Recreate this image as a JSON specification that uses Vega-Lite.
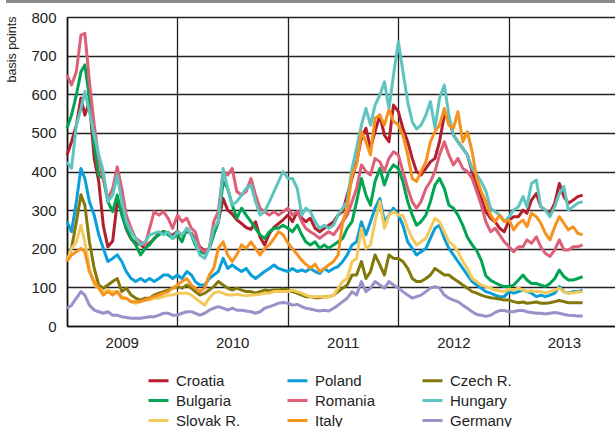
{
"$schema": "https://vega.github.io/schema/vega-lite/v6.json",
"width": 548, "height": 309,
"autosize": {"type": "none"},
"padding": {"left": 67, "top": 17, "right": 0, "bottom": 101},
"background": "white",
"config": {"font": "Liberation Sans, Arial, sans-serif", "view": {"stroke": null},
"axisY": {"ticks": false, "grid": true, "gridColor": "#222", "gridWidth": 1.3, "labelOverlap": false, "domainColor": "#111", "domainWidth": 1.6, "labelFontSize": 15, "labelColor": "#222", "labelPadding": 11},
"axisX": {"ticks": false, "grid": true, "gridColor": "#222", "gridWidth": 1.3, "labelOverlap": false, "domainColor": "#111", "domainWidth": 1.6, "labelFontSize": 15, "labelColor": "#222", "labelPadding": 9, "labelFlush": false}},
"data": {"values": [
{"d":"2009-01-01","Croatia":443,"Bulgaria":512,"Romania":650,"Hungary":425,"Poland":270,"CzechR":167,"SlovakR":167,"Italy":167,"Germany":46},
{"d":"2009-01-16","Croatia":477,"Bulgaria":546,"Romania":624,"Hungary":408,"Poland":244,"CzechR":201,"SlovakR":201,"Italy":184,"Germany":54},
{"d":"2009-02-01","Croatia":520,"Bulgaria":598,"Romania":658,"Hungary":520,"Poland":322,"CzechR":270,"SlovakR":218,"Italy":192,"Germany":72},
{"d":"2009-02-16","Croatia":590,"Bulgaria":658,"Romania":753,"Hungary":563,"Poland":408,"CzechR":340,"SlovakR":261,"Italy":201,"Germany":89},
{"d":"2009-03-01","Croatia":546,"Bulgaria":676,"Romania":758,"Hungary":607,"Poland":382,"CzechR":313,"SlovakR":218,"Italy":192,"Germany":80},
{"d":"2009-03-16","Croatia":581,"Bulgaria":590,"Romania":633,"Hungary":555,"Poland":322,"CzechR":218,"SlovakR":149,"Italy":141,"Germany":54},
{"d":"2009-04-01","Croatia":434,"Bulgaria":469,"Romania":520,"Hungary":494,"Poland":287,"CzechR":149,"SlovakR":106,"Italy":115,"Germany":41},
{"d":"2009-04-16","Croatia":374,"Bulgaria":391,"Romania":434,"Hungary":443,"Poland":236,"CzechR":106,"SlovakR":98,"Italy":98,"Germany":37},
{"d":"2009-05-01","Croatia":260,"Bulgaria":382,"Romania":382,"Hungary":400,"Poland":201,"CzechR":98,"SlovakR":89,"Italy":80,"Germany":33},
{"d":"2009-05-16","Croatia":205,"Bulgaria":322,"Romania":330,"Hungary":322,"Poland":167,"CzechR":106,"SlovakR":93,"Italy":89,"Germany":37},
{"d":"2009-06-01","Croatia":220,"Bulgaria":296,"Romania":356,"Hungary":339,"Poland":175,"CzechR":115,"SlovakR":89,"Italy":80,"Germany":28},
{"d":"2009-06-16","Croatia":320,"Bulgaria":339,"Romania":412,"Hungary":391,"Poland":184,"CzechR":123,"SlovakR":89,"Italy":89,"Germany":28},
{"d":"2009-07-01","Croatia":300,"Bulgaria":287,"Romania":356,"Hungary":322,"Poland":167,"CzechR":89,"SlovakR":76,"Italy":72,"Germany":24},
{"d":"2009-07-16","Croatia":250,"Bulgaria":253,"Romania":287,"Hungary":270,"Poland":141,"CzechR":98,"SlovakR":72,"Italy":72,"Germany":22},
{"d":"2009-08-01","Croatia":225,"Bulgaria":227,"Romania":253,"Hungary":244,"Poland":123,"CzechR":80,"SlovakR":63,"Italy":63,"Germany":20},
{"d":"2009-08-16","Croatia":215,"Bulgaria":210,"Romania":227,"Hungary":227,"Poland":115,"CzechR":72,"SlovakR":59,"Italy":63,"Germany":20},
{"d":"2009-09-01","Croatia":210,"Bulgaria":184,"Romania":218,"Hungary":210,"Poland":123,"CzechR":67,"SlovakR":63,"Italy":63,"Germany":20},
{"d":"2009-09-16","Croatia":201,"Bulgaria":201,"Romania":210,"Hungary":218,"Poland":115,"CzechR":72,"SlovakR":67,"Italy":67,"Germany":22},
{"d":"2009-10-01","Croatia":215,"Bulgaria":210,"Romania":253,"Hungary":236,"Poland":123,"CzechR":72,"SlovakR":67,"Italy":72,"Germany":24},
{"d":"2009-10-16","Croatia":225,"Bulgaria":227,"Romania":296,"Hungary":240,"Poland":115,"CzechR":80,"SlovakR":72,"Italy":76,"Germany":24},
{"d":"2009-11-01","Croatia":240,"Bulgaria":236,"Romania":287,"Hungary":244,"Poland":123,"CzechR":85,"SlovakR":72,"Italy":80,"Germany":28},
{"d":"2009-11-16","Croatia":245,"Bulgaria":244,"Romania":296,"Hungary":236,"Poland":132,"CzechR":89,"SlovakR":76,"Italy":85,"Germany":33},
{"d":"2009-12-01","Croatia":240,"Bulgaria":236,"Romania":279,"Hungary":244,"Poland":132,"CzechR":93,"SlovakR":80,"Italy":89,"Germany":33},
{"d":"2009-12-16","Croatia":235,"Bulgaria":227,"Romania":253,"Hungary":227,"Poland":123,"CzechR":98,"SlovakR":80,"Italy":98,"Germany":28},
{"d":"2010-01-01","Croatia":245,"Bulgaria":236,"Romania":287,"Hungary":244,"Poland":132,"CzechR":102,"SlovakR":85,"Italy":106,"Germany":28},
{"d":"2010-01-16","Croatia":235,"Bulgaria":218,"Romania":270,"Hungary":236,"Poland":123,"CzechR":98,"SlovakR":85,"Italy":115,"Germany":33},
{"d":"2010-02-01","Croatia":245,"Bulgaria":253,"Romania":279,"Hungary":253,"Poland":141,"CzechR":106,"SlovakR":85,"Italy":123,"Germany":37},
{"d":"2010-02-16","Croatia":240,"Bulgaria":236,"Romania":253,"Hungary":236,"Poland":132,"CzechR":98,"SlovakR":80,"Italy":106,"Germany":37},
{"d":"2010-03-01","Croatia":225,"Bulgaria":210,"Romania":244,"Hungary":218,"Poland":115,"CzechR":89,"SlovakR":72,"Italy":98,"Germany":33},
{"d":"2010-03-16","Croatia":205,"Bulgaria":192,"Romania":201,"Hungary":184,"Poland":106,"CzechR":80,"SlovakR":63,"Italy":89,"Germany":28},
{"d":"2010-04-01","Croatia":195,"Bulgaria":188,"Romania":192,"Hungary":175,"Poland":106,"CzechR":85,"SlovakR":54,"Italy":98,"Germany":33},
{"d":"2010-04-16","Croatia":200,"Bulgaria":201,"Romania":201,"Hungary":201,"Poland":123,"CzechR":93,"SlovakR":72,"Italy":132,"Germany":41},
{"d":"2010-05-01","Croatia":240,"Bulgaria":236,"Romania":270,"Hungary":253,"Poland":132,"CzechR":102,"SlovakR":85,"Italy":149,"Germany":46},
{"d":"2010-05-16","Croatia":270,"Bulgaria":270,"Romania":296,"Hungary":270,"Poland":141,"CzechR":115,"SlovakR":89,"Italy":201,"Germany":50},
{"d":"2010-06-01","Croatia":330,"Bulgaria":374,"Romania":400,"Hungary":408,"Poland":175,"CzechR":106,"SlovakR":85,"Italy":218,"Germany":46},
{"d":"2010-06-16","Croatia":300,"Bulgaria":356,"Romania":391,"Hungary":356,"Poland":149,"CzechR":98,"SlovakR":80,"Italy":184,"Germany":41},
{"d":"2010-07-01","Croatia":290,"Bulgaria":313,"Romania":408,"Hungary":313,"Poland":158,"CzechR":93,"SlovakR":80,"Italy":167,"Germany":46},
{"d":"2010-07-16","Croatia":275,"Bulgaria":279,"Romania":348,"Hungary":322,"Poland":149,"CzechR":98,"SlovakR":82,"Italy":184,"Germany":41},
{"d":"2010-08-01","Croatia":265,"Bulgaria":305,"Romania":339,"Hungary":339,"Poland":141,"CzechR":93,"SlovakR":80,"Italy":210,"Germany":41},
{"d":"2010-08-16","Croatia":255,"Bulgaria":287,"Romania":348,"Hungary":356,"Poland":149,"CzechR":89,"SlovakR":78,"Italy":201,"Germany":39},
{"d":"2010-09-01","Croatia":250,"Bulgaria":270,"Romania":382,"Hungary":365,"Poland":132,"CzechR":89,"SlovakR":80,"Italy":218,"Germany":37},
{"d":"2010-09-16","Croatia":270,"Bulgaria":253,"Romania":339,"Hungary":322,"Poland":123,"CzechR":85,"SlovakR":80,"Italy":201,"Germany":33},
{"d":"2010-10-01","Croatia":230,"Bulgaria":236,"Romania":305,"Hungary":287,"Poland":132,"CzechR":89,"SlovakR":82,"Italy":184,"Germany":37},
{"d":"2010-10-16","Croatia":210,"Bulgaria":227,"Romania":296,"Hungary":296,"Poland":141,"CzechR":93,"SlovakR":85,"Italy":201,"Germany":46},
{"d":"2010-11-01","Croatia":240,"Bulgaria":244,"Romania":287,"Hungary":322,"Poland":149,"CzechR":91,"SlovakR":85,"Italy":210,"Germany":50},
{"d":"2010-11-16","Croatia":255,"Bulgaria":253,"Romania":296,"Hungary":348,"Poland":158,"CzechR":93,"SlovakR":89,"Italy":227,"Germany":54},
{"d":"2010-12-01","Croatia":265,"Bulgaria":253,"Romania":287,"Hungary":374,"Poland":149,"CzechR":93,"SlovakR":89,"Italy":244,"Germany":59},
{"d":"2010-12-16","Croatia":275,"Bulgaria":261,"Romania":296,"Hungary":400,"Poland":145,"CzechR":96,"SlovakR":89,"Italy":236,"Germany":61},
{"d":"2011-01-01","Croatia":287,"Bulgaria":253,"Romania":305,"Hungary":382,"Poland":141,"CzechR":93,"SlovakR":89,"Italy":215,"Germany":59},
{"d":"2011-01-16","Croatia":270,"Bulgaria":244,"Romania":287,"Hungary":382,"Poland":149,"CzechR":89,"SlovakR":93,"Italy":200,"Germany":54},
{"d":"2011-02-01","Croatia":296,"Bulgaria":261,"Romania":296,"Hungary":356,"Poland":141,"CzechR":85,"SlovakR":89,"Italy":185,"Germany":56},
{"d":"2011-02-16","Croatia":279,"Bulgaria":236,"Romania":270,"Hungary":287,"Poland":145,"CzechR":80,"SlovakR":85,"Italy":170,"Germany":50},
{"d":"2011-03-01","Croatia":270,"Bulgaria":218,"Romania":253,"Hungary":305,"Poland":141,"CzechR":76,"SlovakR":80,"Italy":160,"Germany":46},
{"d":"2011-03-16","Croatia":279,"Bulgaria":210,"Romania":244,"Hungary":296,"Poland":149,"CzechR":76,"SlovakR":76,"Italy":150,"Germany":44},
{"d":"2011-04-01","Croatia":253,"Bulgaria":218,"Romania":236,"Hungary":270,"Poland":141,"CzechR":73,"SlovakR":76,"Italy":160,"Germany":41},
{"d":"2011-04-16","Croatia":244,"Bulgaria":201,"Romania":227,"Hungary":253,"Poland":136,"CzechR":73,"SlovakR":76,"Italy":141,"Germany":39},
{"d":"2011-05-01","Croatia":253,"Bulgaria":210,"Romania":236,"Hungary":261,"Poland":149,"CzechR":76,"SlovakR":76,"Italy":149,"Germany":41},
{"d":"2011-05-16","Croatia":261,"Bulgaria":201,"Romania":244,"Hungary":253,"Poland":141,"CzechR":76,"SlovakR":76,"Italy":158,"Germany":39},
{"d":"2011-06-01","Croatia":270,"Bulgaria":210,"Romania":236,"Hungary":261,"Poland":149,"CzechR":80,"SlovakR":80,"Italy":167,"Germany":46},
{"d":"2011-06-16","Croatia":287,"Bulgaria":218,"Romania":253,"Hungary":287,"Poland":154,"CzechR":89,"SlovakR":98,"Italy":184,"Germany":54},
{"d":"2011-07-01","Croatia":296,"Bulgaria":227,"Romania":270,"Hungary":305,"Poland":167,"CzechR":98,"SlovakR":115,"Italy":270,"Germany":63},
{"d":"2011-07-16","Croatia":339,"Bulgaria":253,"Romania":287,"Hungary":322,"Poland":184,"CzechR":106,"SlovakR":123,"Italy":305,"Germany":72},
{"d":"2011-08-01","Croatia":382,"Bulgaria":270,"Romania":322,"Hungary":408,"Poland":210,"CzechR":132,"SlovakR":167,"Italy":391,"Germany":89},
{"d":"2011-08-16","Croatia":425,"Bulgaria":322,"Romania":356,"Hungary":460,"Poland":218,"CzechR":132,"SlovakR":175,"Italy":417,"Germany":80},
{"d":"2011-09-01","Croatia":486,"Bulgaria":382,"Romania":417,"Hungary":520,"Poland":270,"CzechR":167,"SlovakR":253,"Italy":503,"Germany":115},
{"d":"2011-09-16","Croatia":512,"Bulgaria":339,"Romania":400,"Hungary":563,"Poland":236,"CzechR":123,"SlovakR":201,"Italy":477,"Germany":89},
{"d":"2011-10-01","Croatia":460,"Bulgaria":313,"Romania":391,"Hungary":520,"Poland":270,"CzechR":141,"SlovakR":210,"Italy":443,"Germany":98},
{"d":"2011-10-16","Croatia":503,"Bulgaria":374,"Romania":434,"Hungary":572,"Poland":305,"CzechR":184,"SlovakR":270,"Italy":538,"Germany":115},
{"d":"2011-11-01","Croatia":546,"Bulgaria":408,"Romania":425,"Hungary":598,"Poland":330,"CzechR":158,"SlovakR":322,"Italy":546,"Germany":106},
{"d":"2011-11-16","Croatia":494,"Bulgaria":365,"Romania":400,"Hungary":632,"Poland":270,"CzechR":132,"SlovakR":253,"Italy":520,"Germany":98},
{"d":"2011-12-01","Croatia":477,"Bulgaria":400,"Romania":434,"Hungary":563,"Poland":287,"CzechR":184,"SlovakR":287,"Italy":560,"Germany":115},
{"d":"2011-12-16","Croatia":572,"Bulgaria":417,"Romania":451,"Hungary":650,"Poland":305,"CzechR":175,"SlovakR":296,"Italy":530,"Germany":106},
{"d":"2012-01-01","Croatia":555,"Bulgaria":408,"Romania":443,"Hungary":736,"Poland":287,"CzechR":175,"SlovakR":287,"Italy":520,"Germany":98},
{"d":"2012-01-16","Croatia":512,"Bulgaria":374,"Romania":400,"Hungary":660,"Poland":261,"CzechR":167,"SlovakR":287,"Italy":494,"Germany":89},
{"d":"2012-02-01","Croatia":477,"Bulgaria":322,"Romania":356,"Hungary":580,"Poland":218,"CzechR":149,"SlovakR":253,"Italy":443,"Germany":80},
{"d":"2012-02-16","Croatia":434,"Bulgaria":287,"Romania":322,"Hungary":529,"Poland":201,"CzechR":123,"SlovakR":227,"Italy":382,"Germany":72},
{"d":"2012-03-01","Croatia":400,"Bulgaria":261,"Romania":305,"Hungary":510,"Poland":184,"CzechR":115,"SlovakR":210,"Italy":374,"Germany":76},
{"d":"2012-03-16","Croatia":391,"Bulgaria":270,"Romania":322,"Hungary":520,"Poland":192,"CzechR":115,"SlovakR":218,"Italy":400,"Germany":80},
{"d":"2012-04-01","Croatia":408,"Bulgaria":287,"Romania":356,"Hungary":546,"Poland":201,"CzechR":123,"SlovakR":227,"Italy":425,"Germany":89},
{"d":"2012-04-16","Croatia":425,"Bulgaria":322,"Romania":374,"Hungary":581,"Poland":227,"CzechR":132,"SlovakR":253,"Italy":477,"Germany":98},
{"d":"2012-05-01","Croatia":434,"Bulgaria":365,"Romania":400,"Hungary":512,"Poland":253,"CzechR":149,"SlovakR":279,"Italy":503,"Germany":102},
{"d":"2012-05-16","Croatia":477,"Bulgaria":382,"Romania":443,"Hungary":589,"Poland":261,"CzechR":141,"SlovakR":270,"Italy":520,"Germany":98},
{"d":"2012-06-01","Croatia":546,"Bulgaria":356,"Romania":477,"Hungary":624,"Poland":227,"CzechR":132,"SlovakR":244,"Italy":563,"Germany":80},
{"d":"2012-06-16","Croatia":538,"Bulgaria":313,"Romania":443,"Hungary":546,"Poland":201,"CzechR":132,"SlovakR":218,"Italy":520,"Germany":72},
{"d":"2012-07-01","Croatia":494,"Bulgaria":305,"Romania":417,"Hungary":494,"Poland":184,"CzechR":123,"SlovakR":210,"Italy":512,"Germany":67},
{"d":"2012-07-16","Croatia":477,"Bulgaria":287,"Romania":434,"Hungary":477,"Poland":167,"CzechR":115,"SlovakR":192,"Italy":555,"Germany":63},
{"d":"2012-08-01","Croatia":460,"Bulgaria":261,"Romania":408,"Hungary":460,"Poland":149,"CzechR":106,"SlovakR":167,"Italy":477,"Germany":54},
{"d":"2012-08-16","Croatia":443,"Bulgaria":230,"Romania":400,"Hungary":443,"Poland":132,"CzechR":98,"SlovakR":149,"Italy":503,"Germany":46},
{"d":"2012-09-01","Croatia":400,"Bulgaria":210,"Romania":382,"Hungary":408,"Poland":115,"CzechR":89,"SlovakR":123,"Italy":451,"Germany":37},
{"d":"2012-09-16","Croatia":365,"Bulgaria":195,"Romania":348,"Hungary":391,"Poland":106,"CzechR":85,"SlovakR":115,"Italy":382,"Germany":30},
{"d":"2012-10-01","Croatia":330,"Bulgaria":170,"Romania":313,"Hungary":374,"Poland":98,"CzechR":80,"SlovakR":106,"Italy":348,"Germany":28},
{"d":"2012-10-16","Croatia":296,"Bulgaria":130,"Romania":270,"Hungary":350,"Poland":89,"CzechR":76,"SlovakR":102,"Italy":322,"Germany":25},
{"d":"2012-11-01","Croatia":279,"Bulgaria":118,"Romania":244,"Hungary":305,"Poland":85,"CzechR":73,"SlovakR":98,"Italy":287,"Germany":28},
{"d":"2012-11-16","Croatia":270,"Bulgaria":112,"Romania":253,"Hungary":296,"Poland":80,"CzechR":72,"SlovakR":93,"Italy":270,"Germany":35},
{"d":"2012-12-01","Croatia":253,"Bulgaria":106,"Romania":236,"Hungary":287,"Poland":76,"CzechR":70,"SlovakR":91,"Italy":287,"Germany":40},
{"d":"2012-12-16","Croatia":244,"Bulgaria":102,"Romania":218,"Hungary":270,"Poland":76,"CzechR":67,"SlovakR":89,"Italy":270,"Germany":40},
{"d":"2013-01-01","Croatia":274,"Bulgaria":102,"Romania":205,"Hungary":283,"Poland":89,"CzechR":67,"SlovakR":95,"Italy":274,"Germany":37},
{"d":"2013-01-16","Croatia":283,"Bulgaria":106,"Romania":192,"Hungary":300,"Poland":85,"CzechR":63,"SlovakR":93,"Italy":249,"Germany":37},
{"d":"2013-02-01","Croatia":283,"Bulgaria":119,"Romania":205,"Hungary":309,"Poland":89,"CzechR":60,"SlovakR":98,"Italy":266,"Germany":40},
{"d":"2013-02-16","Croatia":300,"Bulgaria":132,"Romania":205,"Hungary":335,"Poland":93,"CzechR":62,"SlovakR":93,"Italy":274,"Germany":40},
{"d":"2013-03-01","Croatia":292,"Bulgaria":119,"Romania":223,"Hungary":309,"Poland":89,"CzechR":59,"SlovakR":89,"Italy":257,"Germany":37},
{"d":"2013-03-16","Croatia":326,"Bulgaria":110,"Romania":214,"Hungary":369,"Poland":85,"CzechR":60,"SlovakR":91,"Italy":292,"Germany":35},
{"d":"2013-04-01","Croatia":343,"Bulgaria":110,"Romania":231,"Hungary":378,"Poland":76,"CzechR":62,"SlovakR":89,"Italy":283,"Germany":33},
{"d":"2013-04-16","Croatia":309,"Bulgaria":106,"Romania":205,"Hungary":309,"Poland":80,"CzechR":59,"SlovakR":89,"Italy":266,"Germany":33},
{"d":"2013-05-01","Croatia":300,"Bulgaria":102,"Romania":188,"Hungary":300,"Poland":76,"CzechR":59,"SlovakR":86,"Italy":240,"Germany":31},
{"d":"2013-05-16","Croatia":292,"Bulgaria":110,"Romania":180,"Hungary":283,"Poland":80,"CzechR":60,"SlovakR":89,"Italy":223,"Germany":33},
{"d":"2013-06-01","Croatia":318,"Bulgaria":123,"Romania":197,"Hungary":309,"Poland":85,"CzechR":63,"SlovakR":93,"Italy":257,"Germany":35},
{"d":"2013-06-16","Croatia":369,"Bulgaria":145,"Romania":223,"Hungary":343,"Poland":102,"CzechR":66,"SlovakR":98,"Italy":283,"Germany":33},
{"d":"2013-07-01","Croatia":335,"Bulgaria":128,"Romania":197,"Hungary":361,"Poland":89,"CzechR":63,"SlovakR":89,"Italy":266,"Germany":30},
{"d":"2013-07-16","Croatia":318,"Bulgaria":119,"Romania":197,"Hungary":300,"Poland":85,"CzechR":60,"SlovakR":85,"Italy":249,"Germany":28},
{"d":"2013-08-01","Croatia":326,"Bulgaria":119,"Romania":205,"Hungary":309,"Poland":89,"CzechR":60,"SlovakR":86,"Italy":257,"Germany":27},
{"d":"2013-08-16","Croatia":335,"Bulgaria":123,"Romania":205,"Hungary":318,"Poland":89,"CzechR":60,"SlovakR":88,"Italy":240,"Germany":26},
{"d":"2013-09-01","Croatia":339,"Bulgaria":128,"Romania":210,"Hungary":322,"Poland":93,"CzechR":60,"SlovakR":89,"Italy":236,"Germany":26}
]},
"layer": [
{
"transform": [{"fold": ["Croatia","Bulgaria","Romania","Hungary","Poland","CzechR","SlovakR","Italy","Germany"], "as": ["country","bp"]}],
"mark": {"type": "line", "strokeWidth": 3, "strokeJoin": "round"},
"encoding": {
"x": {"field": "d", "type": "temporal",
"scale": {"type": "utc", "domain": [1230768000000, 1387238400000]},
"axis": {"title": null, "tickCount": 20, "values": [1230768000000,1246406400000,1262304000000,1277942400000,1293840000000,1309478400000,1325376000000,1341100800000,1356998400000,1372636800000],
"labelExpr": "utcmonth(datum.value) == 6 ? utcFormat(datum.value, '%Y') : ''",
"gridOpacity": {"condition": {"test": "utcmonth(datum.value) == 6", "value": 0}, "value": 1}}},
"y": {"field": "bp", "type": "quantitative",
"scale": {"domain": [0, 800]},
"axis": {"values": [0,100,200,300,400,500,600,700,800], "tickCount": 20, "title": "basis points", "titleFontSize": 12.5, "titleFontWeight": "normal", "titleColor": "#222",
"titleAngle": -90, "titleX": -52, "titleY": 32, "titleAlign": "center", "titleBaseline": "alphabetic"}},
"color": {"field": "country", "type": "nominal",
"scale": {"domain": ["Croatia","Poland","CzechR","Bulgaria","Romania","Hungary","SlovakR","Italy","Germany"],
"range": ["#B41F2D","#0A9FDB","#84780A","#00A551","#DE5F78","#5EC4BF","#F4C95B","#F6921E","#9C90C9"]},
"legend": {"title": null, "orient": "none", "legendX": 80, "legendY": 352, "columns": 3, "direction": "horizontal",
"symbolType": "stroke", "symbolSize": 400, "symbolStrokeWidth": 3, "labelFontSize": 15, "labelColor": "#222", "labelOffset": 6,
"columnPadding": 40, "rowPadding": 0,
"labelExpr": "datum.label == 'CzechR' ? 'Czech R.' : datum.label == 'SlovakR' ? 'Slovak R.' : datum.label"}}
}
},
{
"mark": {"type": "rule", "color": "#8a8a8a", "strokeWidth": 1.5, "clip": false},
"encoding": {
"x": {"datum": 1213488000000, "type": "temporal"},
"x2": {"datum": 1387238400000},
"y": {"datum": 840, "type": "quantitative"}
}
}
]
}
